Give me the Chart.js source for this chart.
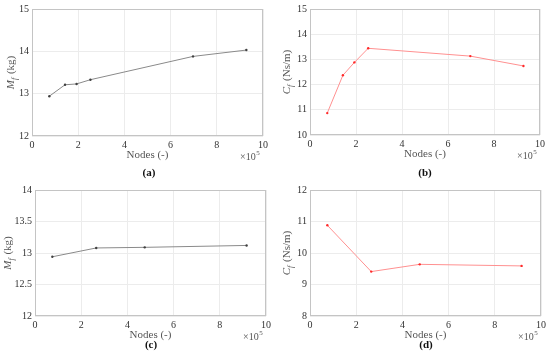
<!DOCTYPE html>
<html>
<head>
<meta charset="utf-8">
<script src="https://cdn.jsdelivr.net/npm/chart.js@4/dist/chart.umd.min.js"></script>
<style>
  html, body { margin: 0; padding: 0; background: #fff; }
  body { width: 550px; height: 362px; position: relative; overflow: hidden; }
  .panel { position: absolute; width: 275px; height: 181px; }
  canvas { display: block; }
</style>
</head>
<body>
<div class="panel" style="left:0;top:0"><canvas id="ca" width="275" height="181"></canvas></div>
<div class="panel" style="left:275px;top:0"><canvas id="cb" width="275" height="181"></canvas></div>
<div class="panel" style="left:0;top:181px"><canvas id="cc" width="275" height="181"></canvas></div>
<div class="panel" style="left:275px;top:181px"><canvas id="cd" width="275" height="181"></canvas></div>
<script>
// Node counts (x 10^5)
const nodesAB = [0.75, 1.43, 1.93, 2.53, 6.97, 9.28];
const nodesCD = [0.75, 2.65, 4.75, 9.16];
// Series values
const massA = [12.94, 13.21, 13.23, 13.33, 13.88, 14.03];
const dampB = [10.87, 12.37, 12.88, 13.44, 13.13, 12.74];
const massC = [12.94, 13.08, 13.09, 13.12];
const dampD = [10.88, 9.41, 9.64, 9.59];
// Tick labels
const xTicks = [0, 2, 4, 6, 8, 10];
const yTicksA = [12, 13, 14, 15];
const yTicksB = [10, 11, 12, 13, 14, 15];
const yTicksC = [12, 12.5, 13, 13.5, 14];
const yTicksD = [8, 9, 10, 11, 12];
const panelLabels = ['(a)', '(b)', '(c)', '(d)'];
const xTitle = 'Nodes (-)';

const SERIF = '"Liberation Serif", "DejaVu Serif", serif';

function makeChart(id, xs, ys, yTicks, yVar, yUnit, label, color, pointColor, geom) {
  const pts = xs.map((x, i) => ({ x: x, y: ys[i] }));
  const annot = {
    id: 'annot' + id,
    beforeDatasetsDraw(chart) {
      const a = chart.chartArea, c = chart.ctx;
      c.save();
      c.strokeStyle = '#c4c4c4';
      c.lineWidth = 1;
      c.strokeRect(Math.round(a.left) + 0.5, Math.round(a.top) + 0.5,
                   Math.round(a.right - a.left) - 1, Math.round(a.bottom - a.top) - 1);
      c.restore();
    },
    afterDraw(chart) {
      const a = chart.chartArea, c = chart.ctx;
      c.save();
      c.fillStyle = '#555';
      // x title
      c.font = '11px ' + SERIF;
      c.textAlign = 'center';
      c.textBaseline = 'middle';
      c.fillText(xTitle, (a.left + a.right) / 2, a.bottom + 19);
      // x10^5
      c.textAlign = 'left';
      c.font = '10px ' + SERIF;
      const ex = a.right - 23;
      c.fillText('\u00d710', ex, a.bottom + 21);
      const w = c.measureText('\u00d710').width;
      c.font = '7px ' + SERIF;
      c.fillText('5', ex + w + 0.5, a.bottom + 17);
      // y label: italic var with subscript f
      c.translate(geom.yl, (a.top + a.bottom) / 2);
      c.rotate(-Math.PI / 2);
      c.textBaseline = 'alphabetic';
      c.font = 'italic 11px ' + SERIF;
      const w1 = c.measureText(yVar).width;
      c.font = 'italic 8px ' + SERIF;
      const w2 = c.measureText('f').width;
      c.font = '11px ' + SERIF;
      const w3 = c.measureText(' ' + yUnit).width;
      let sx = -(w1 + w2 + 1 + w3) / 2;
      c.font = 'italic 11px ' + SERIF;
      c.fillText(yVar, sx, 4);
      c.font = 'italic 8px ' + SERIF;
      c.fillText('f', sx + w1, 6.5);
      c.font = '11px ' + SERIF;
      c.fillText(' ' + yUnit, sx + w1 + w2 + 1, 4);
      c.restore();
      // panel label
      c.save();
      c.fillStyle = '#111';
      c.font = 'bold 11px ' + SERIF;
      c.textAlign = 'center';
      c.textBaseline = 'middle';
      c.fillText(label, geom.lx, geom.ly);
      c.restore();
    }
  };
  return new Chart(document.getElementById(id), {
    type: 'line',
    data: {
      datasets: [{
        data: pts,
        borderColor: color,
        borderWidth: 1,
        pointRadius: 1.2,
        pointBackgroundColor: pointColor,
        pointBorderColor: pointColor,
        pointBorderWidth: 0,
        tension: 0,
        fill: false
      }]
    },
    options: {
      responsive: false,
      animation: false,
      events: [],
      layout: { padding: { top: geom.top, right: geom.right, left: 0, bottom: 0 } },
      plugins: { legend: { display: false }, tooltip: { enabled: false } },
      scales: {
        x: {
          type: 'linear',
          min: xTicks[0], max: xTicks[xTicks.length - 1],
          afterBuildTicks: s => { s.ticks = xTicks.map(v => ({ value: v })); },
          afterFit: s => { s.height = 181 - geom.bottom; },
          grid: { color: '#ececec', drawTicks: false, lineWidth: 1 },
          border: { display: false },
          ticks: { color: '#333', padding: 3, font: { family: SERIF, size: 10 }, maxRotation: 0,
                   autoSkip: false, callback: v => String(v) }
        },
        y: {
          type: 'linear',
          min: yTicks[0], max: yTicks[yTicks.length - 1],
          afterBuildTicks: s => { s.ticks = yTicks.map(v => ({ value: v })); },
          ticks: { color: '#333', padding: 3, font: { family: SERIF, size: 10 },
                   autoSkip: false, callback: v => String(v) },
          afterFit: s => { s.width = geom.left; },
          grid: { color: '#ececec', drawTicks: false, lineWidth: 1 },
          border: { display: false }
        }
      }
    },
    plugins: [annot]
  });
}

const gray = '#8a8a8a', grayPt = '#404040', red = '#ff9090', redPt = '#ff2a2a';
makeChart('ca', nodesAB, massA, yTicksA, 'M', '(kg)', panelLabels[0], gray, grayPt,
  { left: 32, right: 12, top: 9, bottom: 136, yl: 10, lx: 149, ly: 173 });
makeChart('cb', nodesAB, dampB, yTicksB, 'C', '(Ns/m)', panelLabels[1], red, redPt,
  { left: 35, right: 10, top: 9, bottom: 135, yl: 11, lx: 150, ly: 173 });
makeChart('cc', nodesCD, massC, yTicksC, 'M', '(kg)', panelLabels[2], gray, grayPt,
  { left: 35, right: 9, top: 9, bottom: 135, yl: 7, lx: 151, ly: 164 });
makeChart('cd', nodesCD, dampD, yTicksD, 'C', '(Ns/m)', panelLabels[3], red, redPt,
  { left: 35, right: 9, top: 9, bottom: 135, yl: 11, lx: 151, ly: 164 });
</script>
</body>
</html>
